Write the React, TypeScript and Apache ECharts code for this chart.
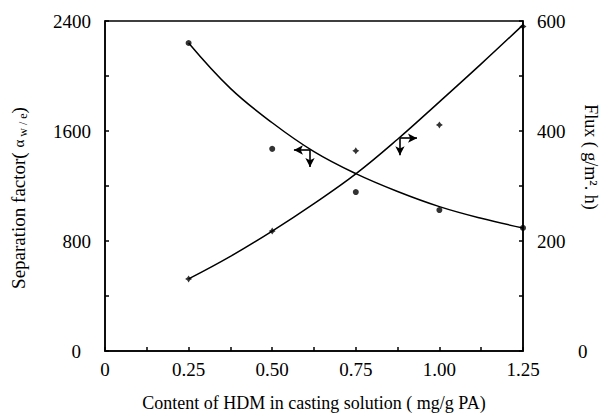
import React, { useEffect, useRef } from "react";
import * as echarts from "echarts";

// HDM content in casting solution (mg/g PA)
const hdmContent = [0.25, 0.5, 0.75, 1.0, 1.25];
// Measured separation factor (α w/e) and flux (g/m².h)
const separationFactor = [2240, 1470, 1156, 1025, 895];
const fluxValues = [131, 218, 364, 411, 590];

// Fitted trend curves
const fitX = [0.25, 0.375, 0.5, 0.625, 0.75, 0.875, 1.0, 1.125, 1.25];
const separationFit = [2240, 1910, 1660, 1450, 1290, 1160, 1050, 965, 895];
const fluxFit = [131, 172, 218, 268, 322, 385, 453, 522, 593];

// Axis ranges
const xTicks = { min: 0, max: 1.25, interval: 0.25 };
const leftTicks = { min: 0, max: 2400, interval: 800 };
const rightTicks = { min: 0, max: 600, interval: 200 };

// Axis-pointer arrows: [x, y] start on the curve, then the arrow ends
const sepArrow = { at: [0.613, 1462], left: 0.565, down: 1338 };
const fluxArrow = { at: [0.882, 387], right: 0.933, down: 356 };

const FONT = "'Liberation Serif', 'DejaVu Serif', serif";
const INK = "#000";

const pair = (xs: number[], ys: number[]) => xs.map((x, i) => [x, ys[i]]);

const starPath =
  "path://M0,-10 L4,-4 L10,0 L4,4 L0,10 L-4,4 L-10,0 L-4,-4 Z";

export default function App() {
  const ref = useRef<HTMLDivElement>(null);

  useEffect(() => {
    if (!ref.current) return;
    const chart = echarts.init(ref.current, undefined, { renderer: "svg" });

    const axisLine = { show: true, lineStyle: { color: INK, width: 1.5 } };
    const axisTick = { show: true, inside: true, length: 4, lineStyle: { color: INK, width: 1.5 } };
    const minorTick = { show: true, splitNumber: 2, length: 4, lineStyle: { color: INK, width: 1.5 } };
    const labelText = { color: INK, fontFamily: FONT, fontSize: 19 };
    const arrowLine = { color: INK, width: 1.6, type: "solid" as const };

    chart.setOption({
      animation: false,
      backgroundColor: "#fff",
      grid: {
        left: 105,
        right: 85,
        top: 21,
        bottom: 66,
        show: true,
        borderColor: INK,
        borderWidth: 1.5,
      },
      xAxis: {
        type: "value",
        ...xTicks,
        axisLine,
        axisTick,
        minorTick,
        splitLine: { show: false },
        axisLabel: {
          ...labelText,
          margin: 9,
          formatter: (v: number) => (v === 0 ? "0" : v.toFixed(2)),
        },
        name: "Content of HDM in casting solution ( mg/g PA)",
        nameLocation: "middle",
        nameGap: 43,
        nameTextStyle: { color: INK, fontFamily: FONT, fontSize: 18 },
      },
      yAxis: [
        {
          type: "value",
          position: "left",
          ...leftTicks,
          axisLine,
          axisTick,
          minorTick,
          splitLine: { show: false },
          axisLabel: {
            ...labelText,
            margin: 14,
            formatter: (v: number) => (v === 0 ? "{z|0}" : String(v)),
            rich: { z: { ...labelText, padding: [0, 10, 0, 0] } },
          },
          name: "{t|Separation factor( }{a|α}{s| w / e}{t|)}",
          nameLocation: "middle",
          nameGap: 76,
          nameRotate: 90,
          nameTextStyle: {
            color: INK,
            fontFamily: FONT,
            fontSize: 19,
            padding: [0, 24, 0, 0],
            rich: {
              t: { fontFamily: FONT, fontSize: 19, color: INK },
              a: { fontFamily: FONT, fontSize: 15, color: INK },
              s: { fontFamily: FONT, fontSize: 12, color: INK, padding: [9, 0, 0, 0] },
            },
          },
        },
        {
          type: "value",
          position: "right",
          ...rightTicks,
          axisLine,
          axisTick,
          minorTick,
          splitLine: { show: false },
          axisLabel: {
            ...labelText,
            margin: 14,
            formatter: (v: number) => (v === 0 ? "{z|0}" : String(v)),
            rich: { z: { ...labelText, padding: [0, 0, 0, 41] } },
          },
        },
      ],
      graphic: [
        {
          type: "text",
          x: 591,
          y: 157,
          rotation: -Math.PI / 2,
          style: {
            text: "Flux ( g/m². h)",
            font: `18px ${FONT}`,
            fill: INK,
            align: "center",
            verticalAlign: "middle",
          },
        },
      ],
      series: [
        {
          name: "Separation fit",
          type: "line",
          yAxisIndex: 0,
          data: pair(fitX, separationFit),
          smooth: 0.4,
          showSymbol: false,
          lineStyle: { color: INK, width: 1.5 },
          silent: true,
          markLine: {
            silent: true,
            symbol: ["none", "arrow"],
            symbolSize: [7, 9],
            label: { show: false },
            lineStyle: arrowLine,
            data: [
              [{ coord: sepArrow.at }, { coord: [sepArrow.left, sepArrow.at[1]] }],
              [{ coord: sepArrow.at }, { coord: [sepArrow.at[0], sepArrow.down] }],
            ],
          },
        },
        {
          name: "Flux fit",
          type: "line",
          yAxisIndex: 1,
          data: pair(fitX, fluxFit),
          smooth: 0.4,
          showSymbol: false,
          lineStyle: { color: INK, width: 1.5 },
          silent: true,
          markLine: {
            silent: true,
            symbol: ["none", "arrow"],
            symbolSize: [7, 9],
            label: { show: false },
            lineStyle: arrowLine,
            data: [
              [{ coord: fluxArrow.at }, { coord: [fluxArrow.right, fluxArrow.at[1]] }],
              [{ coord: fluxArrow.at }, { coord: [fluxArrow.at[0], fluxArrow.down] }],
            ],
          },
        },
        {
          name: "Separation factor",
          type: "scatter",
          yAxisIndex: 0,
          data: pair(hdmContent, separationFactor),
          symbol: "circle",
          symbolSize: 6,
          itemStyle: { color: INK },
        },
        {
          name: "Flux",
          type: "scatter",
          yAxisIndex: 1,
          data: pair(hdmContent, fluxValues),
          symbol: starPath,
          symbolSize: 7,
          itemStyle: { color: INK },
        },
      ],
    });

    return () => chart.dispose();
  }, []);

  return (
    <div
      ref={ref}
      style={{ position: "absolute", left: 0, top: 0, width: 608, height: 417 }}
    />
  );
}
